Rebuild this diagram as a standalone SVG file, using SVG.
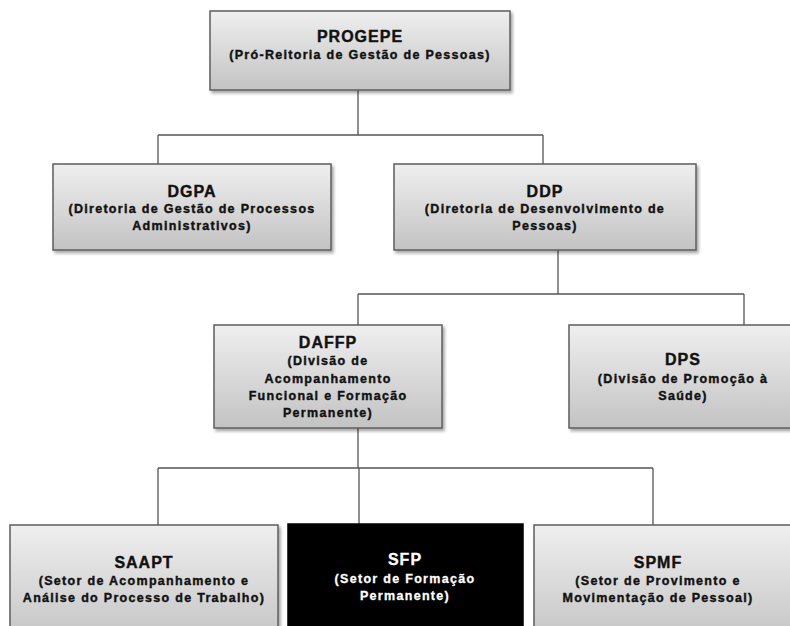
<svg xmlns="http://www.w3.org/2000/svg" width="790" height="626" viewBox="0 0 790 626">
<defs>
<linearGradient id="g" x1="0" y1="0" x2="0" y2="1">
<stop offset="0" stop-color="#efefef"/>
<stop offset="1" stop-color="#c3c3c3"/>
</linearGradient>
<filter id="sh" x="-10%" y="-10%" width="130%" height="130%">
<feDropShadow dx="2" dy="2.5" stdDeviation="1.5" flood-color="#000" flood-opacity="0.35"/>
</filter>
<style>
.box{fill:url(#g);stroke:#5e5e5e;stroke-width:1.5;filter:url(#sh)}
.dark{fill:#000;stroke:#000;stroke-width:1.5}
.t{font-family:"Liberation Sans",Arial,sans-serif;font-weight:bold;fill:#111;stroke:#111;stroke-width:0.4;text-anchor:middle}
.h{font-size:16px;letter-spacing:1px}
.s{font-size:12.5px;letter-spacing:1.3px}
.w{fill:#fff;stroke:#fff;stroke-width:0.3}
.c{stroke:#555;stroke-width:1.3;fill:none}
</style>
</defs>
<rect width="790" height="626" fill="#fff"/>
<g id="connectors">
<path class="c" d="M358 90V135M158 135H543M158 135V164M543 135V164"/>
<path class="c" d="M558 250V294M358 294H744M358 294V325M744 294V325"/>
<path class="c" d="M358 428V468M158 468H653M158 468V525M359 468V524M653 468V525"/>
</g>
<g id="progepe">
<rect class="box" x="210" y="11" width="300" height="79"/>
<text class="t h" x="360" y="42">PROGEPE</text>
<text class="t s" x="360" y="59">(Pró-Reitoria de Gestão de Pessoas)</text>
</g>
<g id="dgpa">
<rect class="box" x="53" y="164" width="278" height="86"/>
<text class="t h" x="192" y="197">DGPA</text>
<text class="t s" x="192" y="213">(Diretoria de Gestão de Processos</text>
<text class="t s" x="192" y="230">Administrativos)</text>
</g>
<g id="ddp">
<rect class="box" x="394" y="164" width="302" height="86"/>
<text class="t h" x="545" y="197">DDP</text>
<text class="t s" x="545" y="213">(Diretoria de Desenvolvimento de</text>
<text class="t s" x="545" y="230">Pessoas)</text>
</g>
<g id="daffp">
<rect class="box" x="214" y="325" width="228" height="103"/>
<text class="t h" x="328" y="348">DAFFP</text>
<text class="t s" x="328" y="365">(Divisão de</text>
<text class="t s" x="328" y="383">Acompanhamento</text>
<text class="t s" x="328" y="400">Funcional e Formação</text>
<text class="t s" x="328" y="417">Permanente)</text>
</g>
<g id="dps">
<rect class="box" x="569" y="325" width="230" height="103"/>
<text class="t h" x="683" y="365">DPS</text>
<text class="t s" x="683" y="383">(Divisão de Promoção à</text>
<text class="t s" x="683" y="400">Saúde)</text>
</g>
<g id="saapt">
<rect class="box" x="10" y="525" width="268" height="120"/>
<text class="t h" x="144" y="568">SAAPT</text>
<text class="t s" x="144" y="585">(Setor de Acompanhamento e</text>
<text class="t s" x="144" y="602">Análise do Processo de Trabalho)</text>
</g>
<g id="sfp">
<rect class="dark" x="288" y="524" width="235" height="120"/>
<text class="t h w" x="405" y="565">SFP</text>
<text class="t s w" x="405" y="583">(Setor de Formação</text>
<text class="t s w" x="405" y="600">Permanente)</text>
</g>
<g id="spmf">
<rect class="box" x="534" y="525" width="266" height="120"/>
<text class="t h" x="658" y="568">SPMF</text>
<text class="t s" x="658" y="585">(Setor de Provimento e</text>
<text class="t s" x="658" y="602">Movimentação de Pessoal)</text>
</g>
</svg>
